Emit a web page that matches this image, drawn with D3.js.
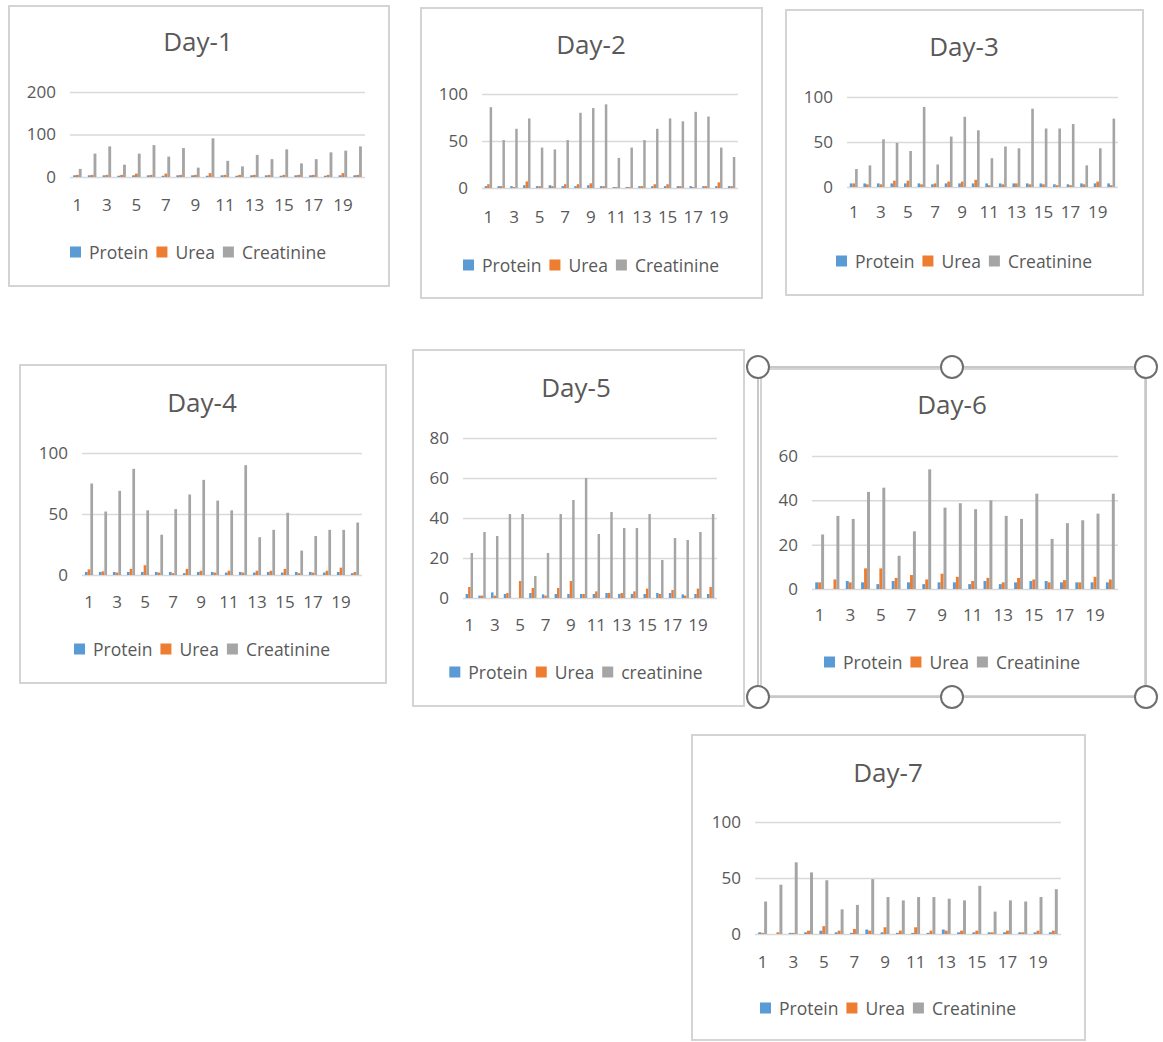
<!DOCTYPE html>
<html>
<head>
<meta charset="utf-8">
<script src="https://cdn.jsdelivr.net/npm/d3@7/dist/d3.min.js"></script>
<style>
  body { margin: 0; background: #ffffff; }
  svg { display: block; }
  text { font-family: "Open Sans", "Noto Sans", sans-serif; fill: #595959; }
</style>
</head>
<body>
<svg id="chart" width="1163" height="1042"></svg>
<script>
// Sample number on the x axis
const categories = [1,2,3,4,5,6,7,8,9,10,11,12,13,14,15,16,17,18,19,20];
const xTickLabels = [1,3,5,7,9,11,13,15,17,19];
const seriesNames = ["Protein", "Urea", "Creatinine"];
const seriesNamesDay5 = ["Protein", "Urea", "creatinine"];
const colors = ["#5B9BD5", "#ED7D31", "#A5A5A5"];

// Day-1
const protein1 = [4,4,4,3,4,4,3,4,4,3,4,3,4,4,3,4,4,3,4,4];
const urea1    = [5,5,5,5,8,5,8,5,5,9,5,5,5,5,5,5,5,5,9,5];
const creat1   = [19,55,72,29,55,75,48,68,22,91,38,25,52,42,65,32,42,58,62,72];
const ticks1   = [0,100,200];

// Day-2
const protein2 = [2,2,2,3,2,3,2,2,3,2,1,1,2,2,2,2,2,2,2,2];
const urea2    = [4,2,1,7,2,2,4,4,5,2,1,1,2,4,4,2,1,2,6,2];
const creat2   = [86,51,63,74,43,41,51,80,85,89,32,43,51,63,74,71,81,76,43,33];
const ticks2   = [0,50,100];

// Day-3
const protein3 = [4,4,4,4,4,4,3,4,4,4,4,4,4,4,4,3,3,4,4,4];
const urea3    = [4,3,3,7,7,3,4,6,6,8,2,3,4,3,3,2,2,3,6,2];
const creat3   = [20,24,53,49,40,89,25,56,78,63,32,45,43,87,65,65,70,24,43,76];
const ticks3   = [0,50,100];

// Day-4
const protein4 = [2.5,2.5,2.5,2.5,2.5,2.5,2.5,1.5,2.5,2.5,2,2.5,2,2.5,2,2.5,2.5,2,2.5,1.5];
const urea4    = [4.6,3,2,5,8,2,1.5,5,3.5,2,3.5,2,3.5,3.5,5,1.5,2,3.5,6,2.5];
const creat4   = [75,52,69,87,53,33,54,66,78,61,53,90,31,37,51,20,32,37,37,43];
const ticks4   = [0,50,100];

// Day-5
const protein5 = [2,1.2,2.8,2,0,2.5,1.8,2,2,2,2,2.5,2,2,2,2.5,2.5,1.8,2,2];
const urea5    = [5.5,1.2,1.2,2.5,8.5,5,1.2,5,8.5,2,3.3,2.5,2.5,3.3,4.7,2,4,1.2,4.7,5.5];
const creat5   = [22.5,33,31,42,42,11,22.5,42,49,60,32,43,35,35,42,19,30,29,33,42];
const ticks5   = [0,20,40,60,80];

// Day-6
const protein6 = [3,0,3.6,3,2.2,3.6,3,2.2,3,3,2.2,3.6,2.2,3,3.6,3.6,3,3,3,3];
const urea6    = [3,4.3,3,9.3,9.3,5,6.3,4.3,6.9,5.5,3.6,5,3,5,4.3,3,4,3,5.5,4.3];
const creat6   = [24.6,33,31.6,43.8,45.7,15,26,54,36.7,38.7,36,40,33,31.6,43,22.6,29.7,31,34,43];
const ticks6   = [0,20,40,60];

// Day-7
const protein7 = [1.5,0,1,1.5,3,1.5,1,4,1.5,1,1,1,4,1.5,1.5,1.5,1.5,1.5,1.5,1.5];
const urea7    = [1,1.5,1,3,7,3,4.5,3,6,3,6,3,3,3,3,1.5,3,1.5,3,3];
const creat7   = [29,44,64,55,48,22,26,49,33,30,33,33,31.5,30,43,20,30,29,33,40];
const ticks7   = [0,50,100];

// Panel placement: frame [x, y, w, h], plot [left, top, right, bottom],
// centre x for title/legend and the vertical centres of title, x labels, legend.
const panels = [
  { title: "Day-1", names: seriesNames, series: [protein1, urea1, creat1], ticks: ticks1,
    frame: [9, 6, 380, 280], plot: [70, 92, 365, 177], cx: 198, titleY: 41, xLabY: 205, legY: 252 },
  { title: "Day-2", names: seriesNames, series: [protein2, urea2, creat2], ticks: ticks2,
    frame: [421, 8, 341, 290], plot: [482, 94, 738, 188], cx: 591, titleY: 44, xLabY: 217, legY: 265 },
  { title: "Day-3", names: seriesNames, series: [protein3, urea3, creat3], ticks: ticks3,
    frame: [786, 10, 357, 285], plot: [847, 97, 1118, 187], cx: 964, titleY: 46, xLabY: 212, legY: 261 },
  { title: "Day-4", names: seriesNames, series: [protein4, urea4, creat4], ticks: ticks4,
    frame: [20, 365, 366, 318], plot: [82, 453, 362, 575], cx: 202, titleY: 402, xLabY: 602, legY: 649 },
  { title: "Day-5", names: seriesNamesDay5, series: [protein5, urea5, creat5], ticks: ticks5,
    frame: [413, 350, 331, 356], plot: [463, 438, 717, 598], cx: 576, titleY: 387, xLabY: 625, legY: 672 },
  { title: "Day-6", names: seriesNames, series: [protein6, urea6, creat6], ticks: ticks6,
    frame: [761, 369, 384, 327], plot: [812, 456, 1118, 589], cx: 952, titleY: 404, xLabY: 615, legY: 662 },
  { title: "Day-7", names: seriesNames, series: [protein7, urea7, creat7], ticks: ticks7,
    frame: [692, 735, 393, 305], plot: [755, 822, 1061, 934], cx: 888, titleY: 772, xLabY: 962, legY: 1008 }
];

const svg = d3.select("#chart");

panels.forEach(p => {
  const g = svg.append("g");
  const [fx, fy, fw, fh] = p.frame;
  const [left, top, right, bottom] = p.plot;

  g.append("rect")
    .attr("x", fx).attr("y", fy).attr("width", fw).attr("height", fh)
    .attr("fill", "#ffffff").attr("stroke", "#d4d4d4").attr("stroke-width", 2);

  g.append("text")
    .attr("x", p.cx).attr("y", p.titleY)
    .attr("text-anchor", "middle").attr("dominant-baseline", "central")
    .style("font-size", "26px")
    .text(p.title);

  const y = d3.scaleLinear()
    .domain([p.ticks[0], p.ticks[p.ticks.length - 1]])
    .range([bottom, top]);

  const x0 = d3.scaleBand().domain(categories).range([left, right])
    .paddingInner(0.42).paddingOuter(0.21);
  const xCat = d3.scaleBand().domain(categories).range([left, right]);
  const x1 = d3.scaleBand().domain([0, 1, 2]).range([0, x0.bandwidth()]);

  // gridlines and value labels
  const yAxis = d3.axisLeft(y).tickValues(p.ticks).tickSize(-(right - left)).tickPadding(14);
  const ya = g.append("g").attr("transform", `translate(${left},0)`).call(yAxis);
  ya.select(".domain").remove();
  ya.selectAll(".tick line").attr("stroke", "#d9d9d9").attr("stroke-width", 1.5);
  ya.selectAll(".tick text")
    .attr("fill", "#595959")
    .style("font-size", "17px")
    .style("font-family", "\"Open Sans\", sans-serif");

  // bars
  p.series.forEach((vals, si) => {
    g.append("g").selectAll("rect")
      .data(vals)
      .join("rect")
      .attr("x", (d, i) => x0(categories[i]) + x1(si))
      .attr("width", x1.bandwidth())
      .attr("y", d => y(d))
      .attr("height", d => y(0) - y(d))
      .attr("fill", colors[si]);
  });

  // category axis
  const xAxis = d3.axisBottom(xCat).tickValues(xTickLabels).tickSize(0).tickPadding(0);
  const xa = g.append("g").attr("transform", `translate(0,${p.xLabY})`).call(xAxis);
  xa.select(".domain").remove();
  xa.selectAll(".tick text")
    .attr("y", 0)
    .attr("dy", "0.35em")
    .attr("fill", "#595959")
    .style("font-size", "17px")
    .style("font-family", "\"Open Sans\", sans-serif");

  // legend
  const leg = g.append("g");
  let cursor = 0;
  p.names.forEach((name, si) => {
    const item = leg.append("g").attr("transform", `translate(${cursor},0)`);
    item.append("rect")
      .attr("x", 0).attr("y", -5.5).attr("width", 11).attr("height", 11)
      .attr("fill", colors[si]);
    const t = item.append("text")
      .attr("x", 19).attr("y", 0).attr("dominant-baseline", "central")
      .style("font-size", "17.5px")
      .text(name);
    cursor += 19 + t.node().getComputedTextLength() + 8;
  });
  const legW = cursor - 8;
  leg.attr("transform", `translate(${p.cx - legW / 2},${p.legY})`);
});

// selection frame with sizing handles around Day-6
const sel = { x: 758, y: 367, w: 388, h: 330 };
svg.append("rect")
  .attr("x", sel.x).attr("y", sel.y).attr("width", sel.w).attr("height", sel.h)
  .attr("fill", "none").attr("stroke", "#c8c8c8").attr("stroke-width", 2);
const hx = [sel.x, sel.x + sel.w / 2, sel.x + sel.w];
const hy = [sel.y, sel.y + sel.h];
hy.forEach(yy => hx.forEach(xx => {
  svg.append("circle")
    .attr("cx", xx).attr("cy", yy).attr("r", 11)
    .attr("fill", "#ffffff").attr("stroke", "#6e6e6e").attr("stroke-width", 2);
}));
</script>
</body>
</html>
